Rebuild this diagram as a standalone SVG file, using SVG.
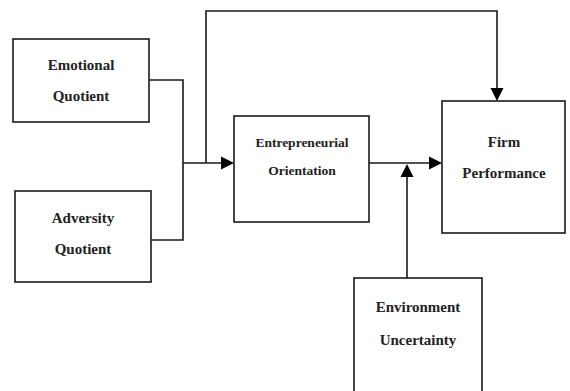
<svg xmlns="http://www.w3.org/2000/svg" width="570" height="391" viewBox="0 0 570 391">
<style>
.box{fill:#fff;stroke:#1a1a1a;stroke-width:1.6}
.t{font-family:"Liberation Serif","Times New Roman",serif;font-weight:bold;font-size:15px;fill:#222;text-anchor:middle}
.s{font-size:13.5px}
.c{fill:none;stroke:#1a1a1a;stroke-width:1.6}
.h{fill:#000}
</style>
<rect width="570" height="391" fill="#fff"/>
<g id="connectors">
<polyline class="c" points="149,80 183,80 183,240 151,240"/>
<line class="c" x1="183" y1="163" x2="222" y2="163"/>
<polygon class="h" points="221,156.5 234,163 221,169.5"/>
<polyline class="c" points="206,163 206,11 497,11 497,89"/>
<polygon class="h" points="490.5,88 503.5,88 497,101"/>
<line class="c" x1="369" y1="163" x2="430" y2="163"/>
<polygon class="h" points="429,156.5 442,163 429,169.5"/>
<line class="c" x1="407" y1="278" x2="407" y2="176"/>
<polygon class="h" points="400.5,177 413.5,177 407,164"/>
</g>
<g id="eq">
<rect class="box" x="13" y="39" width="136" height="83"/>
<text class="t" x="81" y="70">Emotional</text>
<text class="t" x="81" y="101">Quotient</text>
</g>
<g id="aq">
<rect class="box" x="15" y="191" width="136" height="91"/>
<text class="t" x="83" y="223">Adversity</text>
<text class="t" x="83" y="254">Quotient</text>
</g>
<g id="eo">
<rect class="box" x="234" y="116" width="135" height="106"/>
<text class="t s" x="302" y="146.5">Entrepreneurial</text>
<text class="t s" x="302" y="175">Orientation</text>
</g>
<g id="fp">
<rect class="box" x="442" y="101" width="123" height="132"/>
<text class="t" x="504" y="146.5">Firm</text>
<text class="t" x="504" y="178">Performance</text>
</g>
<g id="eu">
<rect class="box" x="354" y="278" width="128" height="120"/>
<text class="t" x="418" y="311.5">Environment</text>
<text class="t" x="418" y="345">Uncertainty</text>
</g>
</svg>
